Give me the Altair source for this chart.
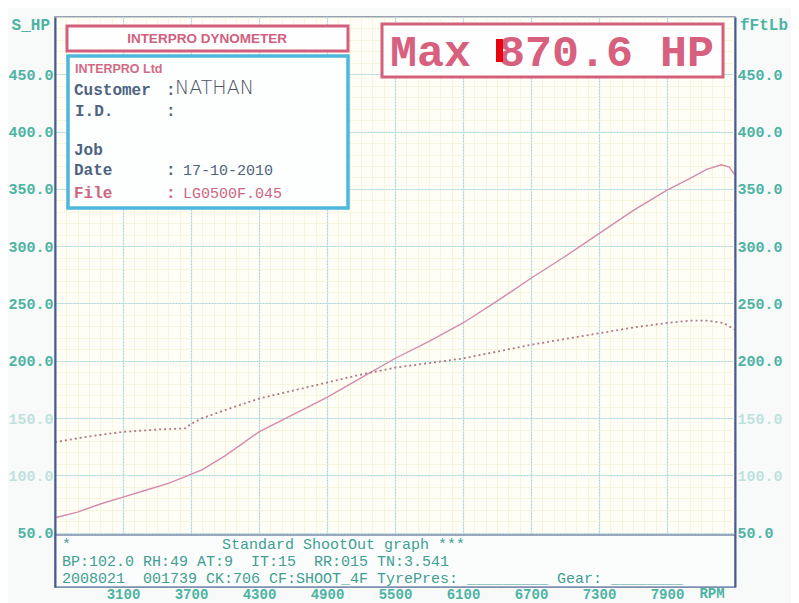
import altair as alt
import pandas as pd
import numpy as np

# ---- data read from the dyno sheet ----
rpm_power = [2500, 2700, 2900, 3100, 3300, 3500, 3650, 3800, 4000, 4300, 4600, 4900,
             5200, 5500, 5800, 6100, 6400, 6700, 7000, 7300, 7600, 7900, 8100, 8250,
             8380, 8450, 8500]
power_hp = [63, 68, 75, 81, 87, 93, 99, 105, 117, 138, 153, 168,
            185, 202, 217, 233, 252, 272, 291, 311, 331, 349, 359, 367,
            371, 369, 362]

rpm_torque = [2500, 2800, 3100, 3400, 3650, 3700, 3800, 4000, 4300, 4600, 4900, 5200,
              5500, 5800, 6100, 6400, 6700, 7000, 7300, 7600, 7900, 8100, 8250, 8400, 8500]
torque_ftlb = [129, 134, 138, 140, 141, 145, 150, 157, 167, 174, 181, 188,
               194, 198, 202, 208, 214, 219, 224, 229, 233, 235, 235, 233, 227]

x_major = list(range(2500, 8501, 600))
x_minor = list(range(2500, 8501, 100))
y_major = list(range(50, 451, 50))
y_minor = list(range(10, 501, 10))

power_df = pd.DataFrame({"rpm": rpm_power, "val": power_hp})
torque_df = pd.DataFrame({"rpm": rpm_torque, "val": torque_ftlb})

XS = alt.Scale(domain=[2500, 8500], nice=False, zero=False)
YS = alt.Scale(domain=[2.6, 500], nice=False, zero=False)

TEAL = "#4db3a3"
FADED = "#bfe2de"
MONO = "Liberation Mono"
NB = "\u00a0"

label_color = {"condition": {"test": "datum.value == 100 || datum.value == 150", "value": FADED},
               "value": TEAL}

# minor grid
minor = alt.Chart(power_df).mark_point(opacity=0).encode(
    x=alt.X("rpm:Q", scale=XS, axis=alt.Axis(values=x_minor, grid=True, gridColor="#f1efcc",
                                             gridWidth=1, gridOpacity=0.6, labels=False, ticks=False,
                                             domain=False, title=None, orient="bottom")),
    y=alt.Y("val:Q", scale=YS, axis=alt.Axis(values=y_minor, grid=True, gridColor="#f1efcc",
                                             gridWidth=1, gridOpacity=0.6, labels=False, ticks=False,
                                             domain=False, title=None, orient="left")),
)

# major grid + x labels
major = alt.Chart(power_df).mark_point(opacity=0).encode(
    x=alt.X("rpm:Q", scale=XS, axis=alt.Axis(values=x_major, grid=True, gridColor="#a3d8e2",
                                             gridDash=[2, 1], gridWidth=1.2, ticks=False, domain=False,
                                             title=None, orient="bottom", format="d",
                                             labelExpr="datum.value < 3000 || datum.value > 8000 ? '' : datum.label",
                                             labelFont=MONO, labelFontSize=14, labelFontWeight="bold",
                                             labelColor=TEAL, labelPadding=0, labelFlush=False)),
    y=alt.Y("val:Q", scale=YS, axis=alt.Axis(values=y_major, grid=True, gridColor="#a3d8e2",
                                             gridDash=[2, 1], gridWidth=1.2, labels=False, ticks=False,
                                             domain=False, title=None, orient="left")),
)

def side_axis(orient):
    return alt.Chart(power_df).mark_point(opacity=0).encode(
        y=alt.Y("val:Q", scale=YS, axis=alt.Axis(values=y_major, grid=False, ticks=False,
                                                 domain=True, domainColor="#4a5c8c", domainWidth=2,
                                                 title=None, orient=orient, format=".1f",
                                                 labelFont=MONO, labelFontSize=15, labelFontWeight="bold",
                                                 labelColor=label_color, labelPadding=2, zindex=1)),
    )

power_line = alt.Chart(power_df).mark_line(color="#d48aac", strokeWidth=1.4).encode(
    x=alt.X("rpm:Q", scale=XS, axis=None), y=alt.Y("val:Q", scale=YS, axis=None))
torque_line = alt.Chart(torque_df).mark_line(color="#b07888", strokeWidth=1.8, strokeDash=[2, 3]).encode(
    x=alt.X("rpm:Q", scale=XS, axis=None), y=alt.Y("val:Q", scale=YS, axis=None))


def box(x, x2, y, y2, **kw):
    return alt.Chart(pd.DataFrame({"a": [0]})).mark_rect(**kw).encode(
        x=alt.value(x), x2=alt.value(x2), y=alt.value(y), y2=alt.value(y2))


def label(text, x, y, **kw):
    opts = dict(align="left", baseline="middle")
    opts.update(kw)
    return alt.Chart(pd.DataFrame({"t": [text.replace("  ", NB + NB)]})).mark_text(**opts).encode(
        x=alt.value(x), y=alt.value(y), text="t:N")

PINK = "#d0607e"
SLATE = "#4e6380"
BOT = "#3f9f92"

overlays = [
    # bottom information box
    box(0, 680, 518, 570, fill="#fbfcfc", stroke="#7a8aaa", strokeWidth=1.5),
    label("*", 7, 527, font=MONO, fontSize=15, color=BOT),
    label("Standard ShootOut graph ***", 167, 527, font=MONO, fontSize=15, color=BOT),
    label("BP:102.0 RH:49 AT:9  IT:15  RR:015 TN:3.541", 7, 544, font=MONO, fontSize=15, color=BOT),
    label("2008021  001739 CK:706 CF:SHOOT_4F TyrePres: _________ Gear: ________", 7, 561,
          font=MONO, fontSize=15, color=BOT),
    # header boxes
    box(12, 293, 9, 34, fill="#fefefe", stroke="#d2607c", strokeWidth=3),
    label("INTERPRO DYNOMETER", 152, 22, align="center", font="Liberation Sans", fontSize=13.5,
          fontWeight="bold", color=PINK),
    box(13, 293, 39, 191, fill="#fdfefe", stroke="#4db8dc", strokeWidth=3.5),
    label("INTERPRO Ltd", 20, 52, font="Liberation Sans", fontSize=12.5, fontWeight="bold", color="#d46a86"),
    label("Customer", 19, 73, font=MONO, fontSize=16, fontWeight="bold", color=SLATE),
    label(":", 111, 73, font=MONO, fontSize=16, fontWeight="bold", color=SLATE),
    label("NATHAN", 120, 71, font="DejaVu Sans", fontSize=19, fontWeight="lighter", color="#4a5466"),
    label("I.D.", 20, 94, font=MONO, fontSize=16, fontWeight="bold", color=SLATE),
    label(":", 111, 94, font=MONO, fontSize=16, fontWeight="bold", color=SLATE),
    label("Job", 19, 133, font=MONO, fontSize=16, fontWeight="bold", color=SLATE),
    label("Date", 19, 153, font=MONO, fontSize=16, fontWeight="bold", color=SLATE),
    label(":", 111, 153, font=MONO, fontSize=16, fontWeight="bold", color=SLATE),
    label("17-10-2010", 128, 153, font=MONO, fontSize=15, color=SLATE),
    label("File", 19, 176, font=MONO, fontSize=16, fontWeight="bold", color="#cc6680"),
    label(":", 111, 176, font=MONO, fontSize=16, fontWeight="bold", color="#cc6680"),
    label("LG0500F.045", 128, 176, font=MONO, fontSize=15, color="#cc6680"),
    # max box
    box(327, 668, 7, 60, fill="#fefefe", stroke="#d4607c", strokeWidth=3),
    label("Max 870.6 HP", 335, 35, font=MONO, fontSize=45, fontWeight="bold", color="#d7607e"),
    box(441, 448, 22, 45, fill="#e8000f"),
    # axis titles
    label("S_HP", -5, 8, align="right", font=MONO, fontSize=16, fontWeight="bold", color=TEAL),
    label("fFtLb", 685, 8, font=MONO, fontSize=16, fontWeight="bold", color=TEAL),
    label("RPM", 657, 570, align="center", baseline="top", font=MONO, fontSize=14,
          fontWeight="bold", color=TEAL),
]

chart = alt.layer(
    minor, major, power_line, torque_line, *overlays, side_axis("left"), side_axis("right")
).resolve_axis(x="independent", y="independent").properties(
    width=680, height=570,
    autosize=alt.AutoSizeParams(type="none"),
    padding={"left": 47, "top": 9, "right": 56, "bottom": 16},
    background="#f8fafa",
).configure_view(fill="#fefef7", stroke="#7585a8", strokeWidth=1.5)

chart.save("out.html", embed_options={"renderer": "svg", "actions": False})
